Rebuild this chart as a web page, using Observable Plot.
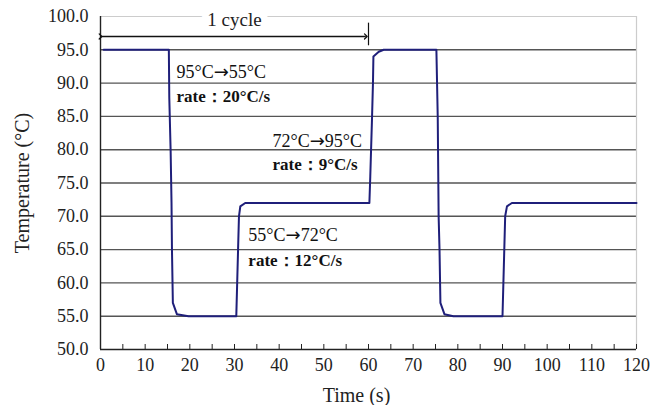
<!DOCTYPE html>
<html><head><meta charset="utf-8">
<script src="https://cdn.jsdelivr.net/npm/d3@7"></script>
<script src="https://cdn.jsdelivr.net/npm/@observablehq/plot@0.6"></script>
<style>body{margin:0;background:#fff}</style>
</head><body><div id="chart"></div>
<script>
// Temperature profile (time in s, temperature in °C)
const time = [0.7, 15.3, 15.4, 15.7, 15.9, 16.0, 16.2, 17.1, 19.7, 30.4, 30.6, 30.8, 31.0, 31.3, 32.4, 60.2, 60.4, 60.8, 61.0, 61.1, 62.3, 63.4, 75.2, 75.5, 75.7, 75.9, 76.1, 77.0, 79.0, 90.0, 90.2, 90.6, 91.0, 92.1, 120];
const temp = [95, 95, 87.8, 79.9, 72, 65, 57, 55.3, 55, 55, 60, 65, 70, 71.5, 72, 72, 76, 85, 90, 94, 94.7, 95, 95, 85, 70, 65, 57, 55.3, 55, 55, 60, 70, 71.5, 72, 72];

const xTickLabels = d3.range(0, 121, 10);
const xMinorTicks = d3.range(0, 121, 5);
const yTicks = d3.range(50, 100.1, 5);
const gridY = d3.range(55, 96, 5);

// annotations
const annX = [17, 38.5, 33.1];
const annTitleY = [91.6, 81.2, 67.2];
const annRateY = [88.0, 77.8, 63.4];
const annTitle = ["95°C→55°C", "72°C→95°C", "55°C→72°C"];
const annRate = ["rate：20°C/s", "rate：9°C/s", "rate：12°C/s"];

const cycleStart = 0, cycleEnd = 60, cycleY = 97, cycleLabel = "1 cycle";

const data = time.map((t, i) => ({t, v: temp[i]}));

const chart = Plot.plot({
  width: 658, height: 405,
  marginLeft: 100, marginRight: 22, marginTop: 16, marginBottom: 56,
  x: {domain: [0, 120]},
  y: {domain: [50, 100]},
  style: {fontFamily: "Liberation Serif", fontSize: "18px", color: "#222", background: "#fff"},
  marks: [
    Plot.ruleY(gridY, {stroke: "#555", strokeWidth: 1.4}),
    Plot.ruleY([100], {stroke: "#ccc", strokeWidth: 1.2}),
    Plot.ruleX([120], {y1: 50, y2: 100, stroke: "#ccc", strokeWidth: 1.2}),
    Plot.ruleX([0], {y1: 50, y2: 100, stroke: "#222", strokeWidth: 1.4}),
    Plot.ruleY([50], {stroke: "#222", strokeWidth: 1.4}),
    Plot.axisX({ticks: xMinorTicks, tickSize: -5, tickFormat: () => "", label: null, stroke: "#222"}),
    Plot.axisX({ticks: xTickLabels, tickSize: 0, tickPadding: 9, label: null, fontSize: 18}),
    Plot.axisY({ticks: yTicks, tickSize: 0, tickPadding: 12, tickFormat: d3.format(".1f"), label: null, fontSize: 18}),
    Plot.text(["Temperature (°C)"], {frameAnchor: "left", dx: -78, rotate: -90, textAnchor: "middle", fontSize: 20, fill: "#222"}),
    Plot.text(["Time (s)"], {frameAnchor: "bottom", dx: -12, dy: 46, lineAnchor: "middle", fontSize: 20, fill: "#222"}),
    Plot.line(data, {x: "t", y: "v", stroke: "#1f1f7a", strokeWidth: 2}),
    Plot.text([cycleLabel], {x: (cycleStart + cycleEnd) / 2, y: 100, dy: 3, fontSize: 19, fill: "#222", stroke: "#fff", strokeWidth: 14, paintOrder: "stroke"}),
    Plot.link([0], {x1: cycleStart, x2: cycleEnd - 0.6, y1: cycleY, y2: cycleY, stroke: "#111", strokeWidth: 1.3, markerStart: "arrow", markerEnd: "arrow"}),
    Plot.ruleX([cycleEnd], {y1: 95.6, y2: 99, stroke: "#111", strokeWidth: 1.2}),
    Plot.text(annTitle, {x: (d, i) => annX[i], y: (d, i) => annTitleY[i], textAnchor: "start", fontSize: 18, fill: "#111"}),
    Plot.text(annRate, {x: (d, i) => annX[i], y: (d, i) => annRateY[i], textAnchor: "start", fontSize: 17, fontWeight: "bold", fill: "#111"})
  ]
});

// render the arrow glyph with a font that has a full-width arrow
d3.select(chart).selectAll("text").each(function() {
  const el = d3.select(this);
  if (el.selectAll("tspan").size() === 0 && this.textContent.includes("→")) {
    const parts = this.textContent.split("→");
    el.text(null);
    parts.forEach((p, i) => {
      if (i > 0) el.append("tspan").attr("font-family", "DejaVu Sans").attr("font-size", 18).text("→");
      el.append("tspan").text(p);
    });
  }
});
document.getElementById("chart").appendChild(chart);
</script>
</body></html>
